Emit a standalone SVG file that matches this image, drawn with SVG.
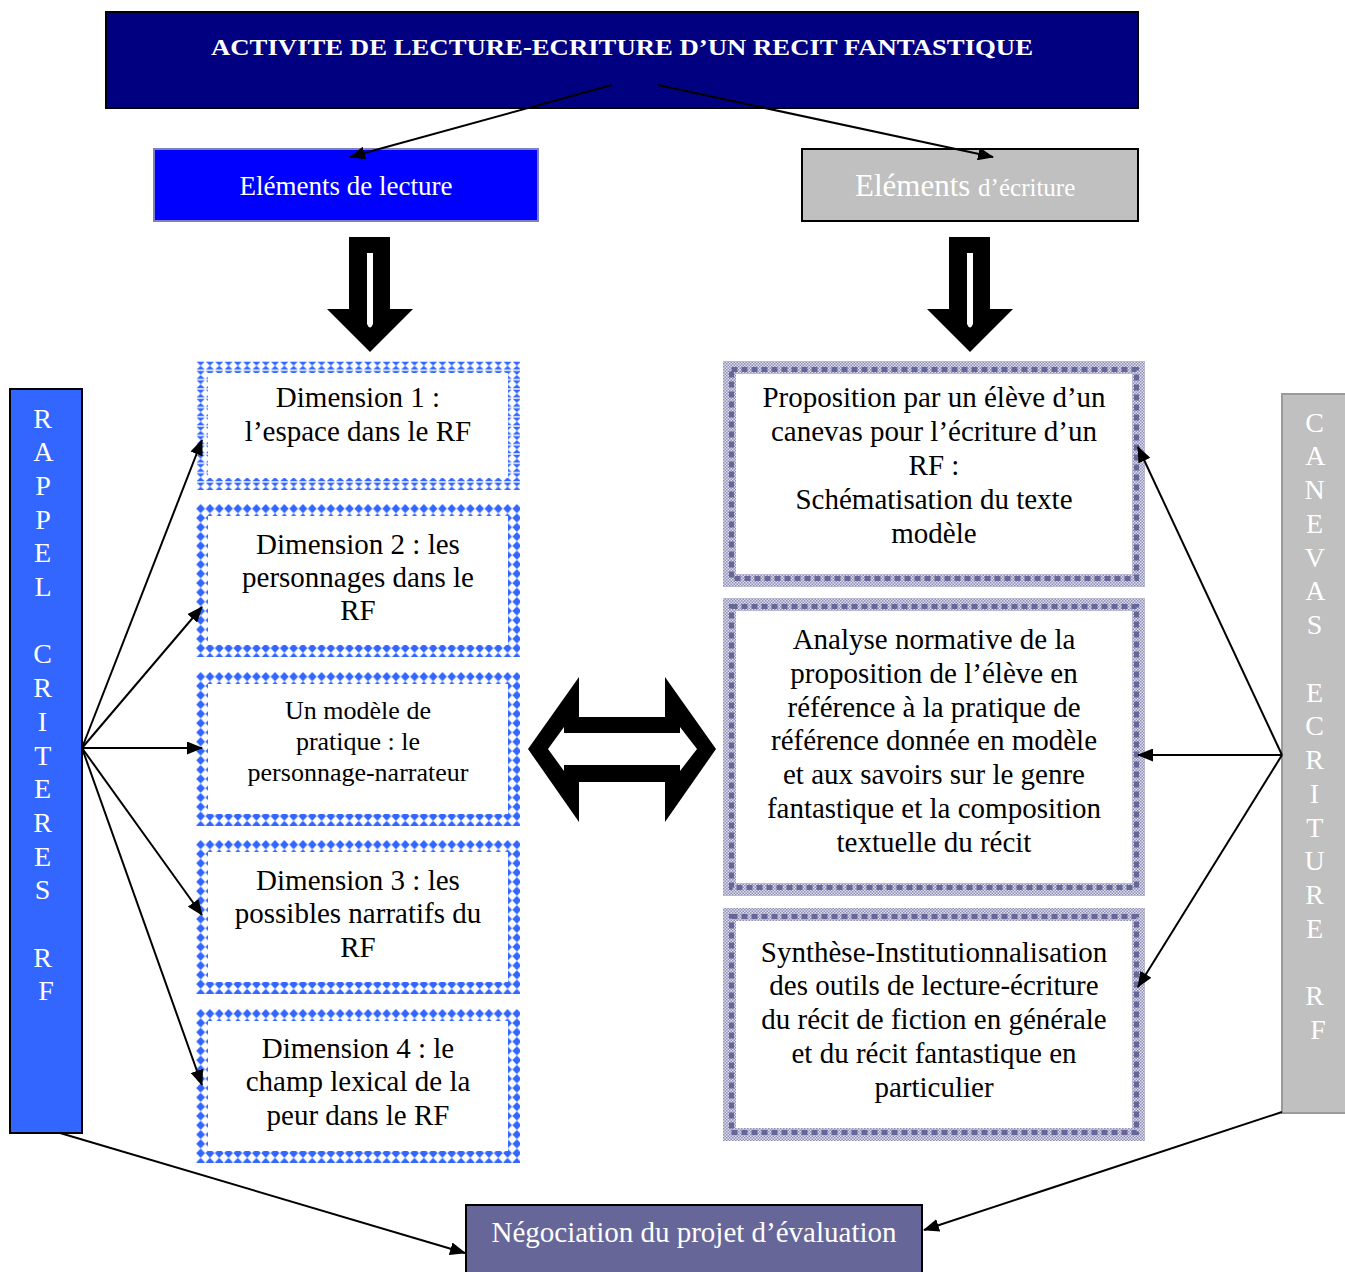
<svg xmlns="http://www.w3.org/2000/svg" width="1345" height="1272" viewBox="0 0 1345 1272">
  <defs>
    <style>
      text { font-family: "Liberation Serif", "Times New Roman", serif; }
      .body { font-size: 29px; fill: #000; text-anchor: middle; }
      .small { font-size: 26px; fill: #000; text-anchor: middle; }
      .bar { font-size: 28px; fill: #fff; text-anchor: middle; }
      .conn { stroke: #000; stroke-width: 2; fill: none; marker-end: url(#ah); }
      .band-blue { fill: url(#diam); fill-rule: evenodd; }
      .band-tri { fill: url(#hour); fill-rule: evenodd; }
      .band-slate { fill: url(#check); fill-rule: evenodd; }
      .blocks { fill: none; stroke: #666699; stroke-width: 5; stroke-dasharray: 6 4; }
    </style>
    <!-- diamond border tile -->
    <pattern id="diam" width="9.3" height="9.3" patternUnits="userSpaceOnUse">
      <path d="M4.65,0 L9.1,4.65 L4.65,9.3 L0.2,4.65 Z" fill="#3366ff"/>
    </pattern>
    <!-- hourglass border tile -->
    <pattern id="hour" width="9.3" height="9.3" patternUnits="userSpaceOnUse">
      <path d="M0.6,0.6 H8.7 L4.65,4.65 Z M4.65,4.65 L8.7,8.7 H0.6 Z" fill="#3366ff"/>
    </pattern>
    <!-- fine checker for the slate borders -->
    <pattern id="check" width="3" height="3" patternUnits="userSpaceOnUse">
      <rect width="3" height="3" fill="#e0e0ee"/>
      <rect width="1.5" height="1.5" fill="#8c8cb4"/>
      <rect x="1.5" y="1.5" width="1.5" height="1.5" fill="#8c8cb4"/>
    </pattern>
    <marker id="ah" viewBox="0 0 16 13" refX="15" refY="6.5" markerWidth="16" markerHeight="13" markerUnits="userSpaceOnUse" orient="auto">
      <path d="M0,0 L16,6.5 L0,13 Z" fill="#000"/>
    </marker>
  </defs>

  <rect width="1345" height="1272" fill="#fff"/>

  <!-- title -->
  <g id="title">
    <rect x="106" y="12" width="1032" height="96" fill="#000080" stroke="#000" stroke-width="2"/>
    <text x="622" y="55" font-size="23" font-weight="bold" fill="#fff" text-anchor="middle" textLength="822" lengthAdjust="spacingAndGlyphs">ACTIVITE DE LECTURE-ECRITURE D’UN RECIT FANTASTIQUE</text>
  </g>

  <g id="lecture">
    <rect x="154" y="149" width="384" height="72" fill="#0000ff" stroke="#7f7fbf" stroke-width="2"/>
    <text x="346" y="195" font-size="27" fill="#fff" text-anchor="middle">Eléments de lecture</text>
  </g>

  <g id="ecriture">
    <rect x="802" y="149" width="336" height="72" fill="#c0c0c0" stroke="#000" stroke-width="2"/>
    <text x="855" y="196" font-size="31" fill="#fff">Eléments <tspan font-size="25">d’écriture</tspan></text>
  </g>

  <!-- block arrows -->
  <g id="down-left">
    <path d="M349,237 H390 V309 H413 L370,352 L327,309 H349 Z" fill="#000"/>
    <path d="M367,253 H373 V324 Q370,331 367,324 Z" fill="#fff"/>
  </g>
  <g id="down-right">
    <path d="M949,237 H990 V309 H1013 L970,352 L927,309 H949 Z" fill="#000"/>
    <path d="M967,253 H973 V324 Q970,331 967,324 Z" fill="#fff"/>
  </g>
  <g id="exchange">
    <path d="M528,749 L579,677 V717 H665 V677 L716,749 L665,822 V782 H579 V822 Z" fill="#000"/>
    <path d="M548,749 L564,727 V733 H680 V727 L697,749 L680,771 V765 H564 V771 Z" fill="#fff"/>
  </g>

  <!-- reading dimensions -->
  <g id="dim1">
    <g transform="translate(196,361)">
      <path class="band-tri" d="M0,0 H324 V129 H0 Z M12,12 V117 H312 V12 Z"/>
    </g>
    <text class="body" x="358" y="407">Dimension 1 :</text>
    <text class="body" x="358" y="441">l’espace dans le RF</text>
  </g>
  <g id="dim2">
    <g transform="translate(196,504)">
      <path class="band-blue" d="M0,0 H324 V153 H0 Z M12,12 V141 H312 V12 Z"/>
    </g>
    <text class="body" x="358" y="554">Dimension 2 : les</text>
    <text class="body" x="358" y="587">personnages dans le</text>
    <text class="body" x="358" y="620">RF</text>
  </g>
  <g id="modele">
    <g transform="translate(196,672)">
      <path class="band-blue" d="M0,0 H324 V154 H0 Z M12,12 V142 H312 V12 Z"/>
    </g>
    <text class="small" x="358" y="719">Un modèle de</text>
    <text class="small" x="358" y="750">pratique : le</text>
    <text class="small" x="358" y="781">personnage-narrateur</text>
  </g>
  <g id="dim3">
    <g transform="translate(196,840)">
      <path class="band-blue" d="M0,0 H324 V154 H0 Z M12,12 V142 H312 V12 Z"/>
    </g>
    <text class="body" x="358" y="890">Dimension 3 : les</text>
    <text class="body" x="358" y="923">possibles narratifs du</text>
    <text class="body" x="358" y="957">RF</text>
  </g>
  <g id="dim4">
    <g transform="translate(196,1009)">
      <path class="band-blue" d="M0,0 H324 V154 H0 Z M12,12 V142 H312 V12 Z"/>
    </g>
    <text class="body" x="358" y="1058">Dimension 4 : le</text>
    <text class="body" x="358" y="1091">champ lexical de la</text>
    <text class="body" x="358" y="1125">peur dans le RF</text>
  </g>

  <!-- writing steps -->
  <g id="proposition">
    <path class="band-slate" d="M723,361 H1145 V587 H723 Z M736,374 V574 H1132 V374 Z"/>
    <rect class="blocks" x="731.5" y="369.5" width="405" height="209"/>
    <text class="body" x="934" y="407">Proposition par un élève d’un</text>
    <text class="body" x="934" y="441">canevas pour l’écriture d’un</text>
    <text class="body" x="934" y="475">RF :</text>
    <text class="body" x="934" y="509">Schématisation du texte</text>
    <text class="body" x="934" y="543">modèle</text>
  </g>
  <g id="analyse">
    <path class="band-slate" d="M723,598 H1145 V896 H723 Z M736,611 V883 H1132 V611 Z"/>
    <rect class="blocks" x="731.5" y="606.5" width="405" height="281"/>
    <text class="body" x="934" y="649">Analyse normative de la</text>
    <text class="body" x="934" y="683">proposition de l’élève en</text>
    <text class="body" x="934" y="717">référence à la pratique de</text>
    <text class="body" x="934" y="750">référence donnée en modèle</text>
    <text class="body" x="934" y="784">et aux savoirs sur le genre</text>
    <text class="body" x="934" y="818">fantastique et la composition</text>
    <text class="body" x="934" y="852">textuelle du récit</text>
  </g>
  <g id="synthese">
    <path class="band-slate" d="M723,908 H1145 V1141 H723 Z M736,921 V1128 H1132 V921 Z"/>
    <rect class="blocks" x="731.5" y="916.5" width="405" height="216"/>
    <text class="body" x="934" y="962">Synthèse-Institutionnalisation</text>
    <text class="body" x="934" y="995">des outils de lecture-écriture</text>
    <text class="body" x="934" y="1029">du récit de fiction en générale</text>
    <text class="body" x="934" y="1063">et du récit fantastique en</text>
    <text class="body" x="934" y="1097">particulier</text>
  </g>

  <!-- side bars -->
  <g id="rappel">
    <rect x="10" y="389" width="72" height="744" fill="#3366ff" stroke="#000" stroke-width="2"/>
    <text class="bar">
      <tspan x="46" y="427.5">R</tspan>
      <tspan x="46" y="461.2">A</tspan>
      <tspan x="46" y="494.9">P</tspan>
      <tspan x="46" y="528.6">P</tspan>
      <tspan x="46" y="562.3">E</tspan>
      <tspan x="46" y="596">L</tspan>
      <tspan x="46" y="663.4">C</tspan>
      <tspan x="46" y="697.1">R</tspan>
      <tspan x="46" y="730.8">I</tspan>
      <tspan x="46" y="764.5">T</tspan>
      <tspan x="46" y="798.2">E</tspan>
      <tspan x="46" y="831.9">R</tspan>
      <tspan x="46" y="865.6">E</tspan>
      <tspan x="46" y="899.3">S</tspan>
      <tspan x="46" y="966.7">R</tspan>
      <tspan x="46" y="1000.4">F</tspan>
    </text>
  </g>
  <g id="canevas">
    <rect x="1282" y="394" width="66" height="719" fill="#c0c0c0" stroke="#9a9a9a" stroke-width="2"/>
    <text class="bar">
      <tspan x="1318" y="431.5">C</tspan>
      <tspan x="1318" y="465.3">A</tspan>
      <tspan x="1318" y="499">N</tspan>
      <tspan x="1318" y="532.8">E</tspan>
      <tspan x="1318" y="566.5">V</tspan>
      <tspan x="1318" y="600.3">A</tspan>
      <tspan x="1318" y="634">S</tspan>
      <tspan x="1318" y="701.5">E</tspan>
      <tspan x="1318" y="735.3">C</tspan>
      <tspan x="1318" y="769">R</tspan>
      <tspan x="1318" y="802.8">I</tspan>
      <tspan x="1318" y="836.5">T</tspan>
      <tspan x="1318" y="870.3">U</tspan>
      <tspan x="1318" y="904">R</tspan>
      <tspan x="1318" y="937.8">E</tspan>
      <tspan x="1318" y="1005.3">R</tspan>
      <tspan x="1318" y="1039">F</tspan>
    </text>
  </g>

  <g id="negociation">
    <rect x="466" y="1205" width="456" height="75" fill="#666699" stroke="#000" stroke-width="2"/>
    <text x="694" y="1242" font-size="29" fill="#fff" text-anchor="middle">Négociation du projet d’évaluation</text>
  </g>

  <!-- connectors -->
  <g id="connectors">
    <line class="conn" x1="612" y1="85" x2="350" y2="157"/>
    <line class="conn" x1="658" y1="85" x2="993" y2="157"/>
    <line class="conn" x1="82" y1="748" x2="202" y2="440"/>
    <line class="conn" x1="82" y1="748" x2="202" y2="607"/>
    <line class="conn" x1="82" y1="748" x2="202" y2="748"/>
    <line class="conn" x1="82" y1="748" x2="202" y2="915"/>
    <line class="conn" x1="82" y1="748" x2="202" y2="1085"/>
    <line class="conn" x1="1282" y1="755" x2="1138" y2="447"/>
    <line class="conn" x1="1282" y1="755" x2="1138" y2="755"/>
    <line class="conn" x1="1282" y1="755" x2="1138" y2="987"/>
    <line class="conn" x1="60" y1="1133" x2="465" y2="1253"/>
    <line class="conn" x1="1282" y1="1112" x2="924" y2="1230"/>
  </g>
</svg>
